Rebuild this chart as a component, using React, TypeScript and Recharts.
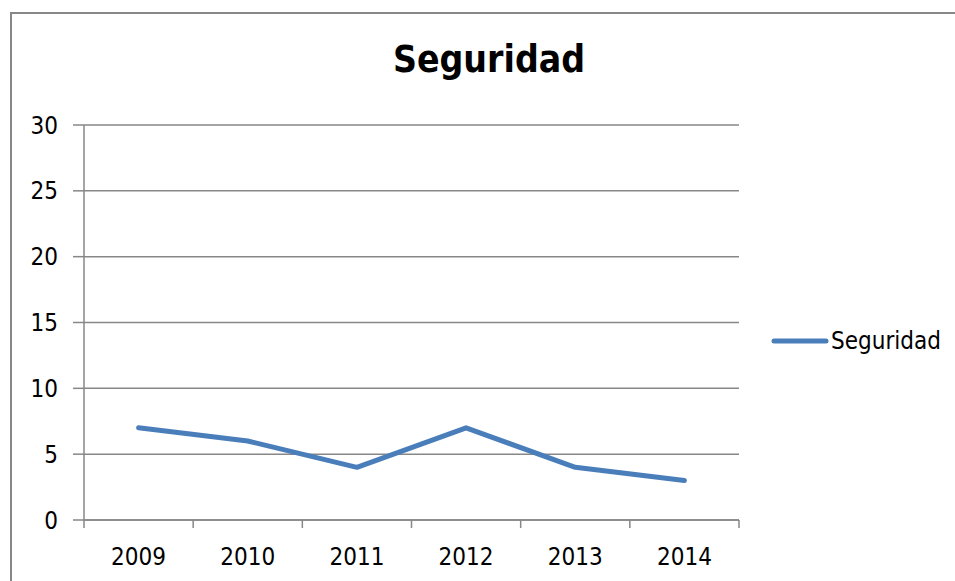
import React from 'react';
import { LineChart, Line, XAxis, YAxis, CartesianGrid, Legend } from 'recharts';

const years = ['2009', '2010', '2011', '2012', '2013', '2014'];
const seguridad = [7, 6, 4, 7, 4, 3];
const yTicks = [0, 5, 10, 15, 20, 25, 30];

const SERIES_NAME = 'Seguridad';
const LINE_COLOR = '#4a7ebb';
const GRID_COLOR = '#878787';
const FONT = '"DejaVu Sans Condensed", "DejaVu Sans", sans-serif';

// plot box (px, inside the 955x581 page)
const PLOT_LEFT = 84;
const PLOT_RIGHT = 739;
const PLOT_TOP = 125;
const PLOT_BOTTOM = 520;
const Y_AXIS_W = 60;
const X_AXIS_H = 40;
const BAND = (PLOT_RIGHT - PLOT_LEFT) / years.length;

const XTick = (props: any) => {
    const { x, payload, index } = props;
    const last = index === years.length - 1;
    return (
        <g>
            <line x1={x - BAND / 2} x2={x - BAND / 2} y1={PLOT_BOTTOM} y2={PLOT_BOTTOM + 8} stroke={GRID_COLOR} strokeWidth={1.5} />
            {last && (
                <line x1={x + BAND / 2} x2={x + BAND / 2} y1={PLOT_BOTTOM} y2={PLOT_BOTTOM + 8} stroke={GRID_COLOR} strokeWidth={1.5} />
            )}
            <text x={x} y={PLOT_BOTTOM + 45} textAnchor="middle" fill="#000" fontSize={24} fontFamily={FONT}>
                {payload.value}
            </text>
        </g>
    );
};

const LegendContent = () => (
    <div style={{ display: 'flex', alignItems: 'center', fontFamily: FONT, fontSize: 24, color: '#000' }}>
        <svg width={60} height={10}>
            <line x1={3} x2={55} y1={5} y2={5} stroke={LINE_COLOR} strokeWidth={5} strokeLinecap="round" />
        </svg>
        <span>{SERIES_NAME}</span>
    </div>
);

export default function App() {
    const data = years.map((y, i) => ({ year: y, value: seguridad[i] }));

    return (
        <div style={{ position: 'absolute', left: 0, top: 0, width: 955, height: 581, background: '#fff', overflow: 'hidden' }}>
            {/* chart frame, only top and left edges fall inside the picture */}
            <div style={{ position: 'absolute', left: 10, top: 12, width: 1000, height: 700, borderTop: `2px solid ${GRID_COLOR}`, borderLeft: `2px solid ${GRID_COLOR}` }} />
            <div style={{ position: 'absolute', left: 0, top: 38, width: 978, textAlign: 'center', fontFamily: FONT, fontWeight: 'bold', fontSize: 37, color: '#000' }}>
                Seguridad
            </div>
            <div style={{ position: 'absolute', left: 0, top: 0 }}>
                <LineChart
                    width={955}
                    height={581}
                    data={data}
                    margin={{ top: PLOT_TOP, right: 955 - PLOT_RIGHT, bottom: 581 - PLOT_BOTTOM - X_AXIS_H, left: PLOT_LEFT - Y_AXIS_W }}
                >
                    <CartesianGrid vertical={false} stroke={GRID_COLOR} strokeWidth={1.5} />
                    <XAxis
                        dataKey="year"
                        scale="band"
                        height={X_AXIS_H}
                        axisLine={{ stroke: GRID_COLOR, strokeWidth: 1.5 }}
                        tickLine={false}
                        tick={<XTick />}
                        interval={0}
                    />
                    <YAxis
                        width={Y_AXIS_W}
                        domain={[0, 30]}
                        ticks={yTicks}
                        axisLine={{ stroke: GRID_COLOR, strokeWidth: 1.5 }}
                        tickLine={{ stroke: GRID_COLOR, strokeWidth: 1.5 }}
                        tickSize={11}
                        tickMargin={15}
                        tick={{ fontSize: 24, fontFamily: FONT, fill: '#000' }}
                    />
                    <Legend
                        layout="vertical"
                        align="center"
                        verticalAlign="middle"
                        content={<LegendContent />}
                        wrapperStyle={{ left: 771, top: 327, width: 180, height: 30 }}
                    />
                    <Line
                        type="linear"
                        dataKey="value"
                        name={SERIES_NAME}
                        stroke={LINE_COLOR}
                        strokeWidth={5}
                        strokeLinecap="round"
                        strokeLinejoin="round"
                        dot={false}
                        activeDot={false}
                        isAnimationActive={false}
                    />
                </LineChart>
            </div>
        </div>
    );
}
